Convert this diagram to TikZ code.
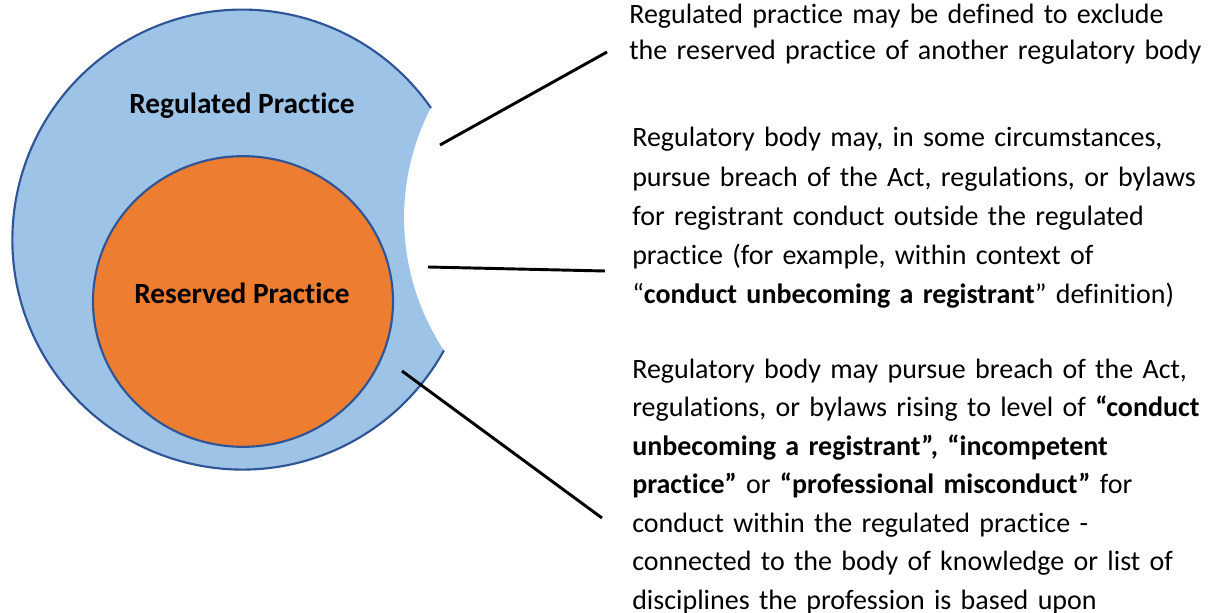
\documentclass[tikz,border=0pt]{standalone}
\usepackage{fontspec}
\setmainfont{Carlito}[Ligatures={NoCommon}]
\usetikzlibrary{shapes.geometric}
\definecolor{regfill}{HTML}{9DC3E6}
\definecolor{resfill}{HTML}{ED7D31}
\definecolor{rimblue}{HTML}{2F5597}
\begin{document}
\begin{tikzpicture}[x=0.75pt,y=-0.75pt,
  rim/.style={draw=rimblue,line width=1.6pt},
  leader/.style={draw=black,line width=2.2pt},
  areatext/.style={font=\fontsize{22}{26}\selectfont\bfseries,inner sep=0pt},
  note/.style={font=\fontsize{21}{29}\selectfont,inner sep=0pt,anchor=base west,
    text width=590pt,align=left}]
\useasboundingbox (0,0) rectangle (1221,613);

% regulated practice: circle with a bite taken out of its right side
\coordinate (p1) at (431,108);
\fill[regfill] (p1) arc[start angle=-34.9,end angle=-331.2,radius=230]
  arc[start angle=146.5,end angle=207.4,radius=240] -- cycle;
\draw[rim] (p1) arc[start angle=-34.9,end angle=-331.2,radius=230];

% reserved practice
\node (reserved) [ellipse,draw=rimblue,line width=1.6pt,fill=resfill,
  minimum width=225pt,minimum height=218pt,inner sep=0pt] at (243,301.5) {};

\node (reglabel) [areatext] at (242,106) {Regulated Practice};
\node (reslabel) [areatext] at (242,293) {Reserved Practice};

% notes
\node (n1) [note,font=\fontsize{21}{27}\selectfont] at (629,24)
  {Regulated practice may be defined to exclude\\
  the reserved practice of another regulatory body};
\node (n2) [note,font=\fontsize{21}{29.3}\selectfont] at (632,147)
  {Regulatory body may, in some circumstances,\\
  pursue breach of the Act, regulations, or bylaws\\
  for registrant conduct outside the regulated\\
  practice (for example, within context of\\
  ``\textbf{conduct unbecoming a registrant}'' definition)};
\node (n3) [note,font=\fontsize{21}{28.9}\selectfont] at (632,378)
  {Regulatory body may pursue breach of the Act,\\
  regulations, or bylaws rising to level of \textbf{``conduct}\\
  \textbf{unbecoming a registrant'', ``incompetent}\\
  \textbf{practice''} or \textbf{``professional misconduct''} for\\
  conduct within the regulated practice -\\
  connected to the body of knowledge or list of\\
  disciplines the profession is based upon};

% leader lines
\coordinate (a1) at (440,145);
\coordinate (b1) at (607,52);
\coordinate (a2) at (428,267);
\coordinate (b2) at (605,271);
\coordinate (a3) at (402,371);
\coordinate (b3) at (602,518);
\draw[leader] (a1) -- (b1);
\draw[leader] (a2) -- (b2);
\draw[leader] (a3) -- (b3);
\end{tikzpicture}
\end{document}
